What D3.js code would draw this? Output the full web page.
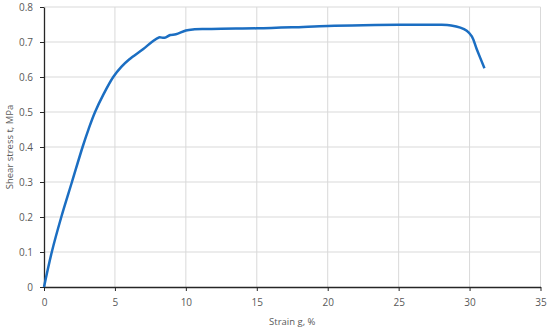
<!DOCTYPE html>
<html>
<head>
<meta charset="utf-8">
<script src="https://cdn.jsdelivr.net/npm/d3@7"></script>
<style>
  body { margin: 0; background: #fff; }
  .tick text { font-family: "Open Sans", sans-serif; font-size: 10px; fill: #595959; }
  .axis-title { font-family: "Open Sans", sans-serif; font-size: 9.5px; fill: #595959; }
</style>
</head>
<body>
<div id="chart"></div>
<script>
// strain (%) and shear stress (MPa)
var strain = [0, 0.55, 1.22, 1.97, 2.72, 3.15, 3.6, 4.2, 4.88, 5.45, 6.0, 7.0, 7.6, 8.1, 8.5, 8.9, 9.3, 10.0, 10.5, 11.5, 12.5, 15, 17.5, 20, 22.5, 25, 27, 28, 28.7, 29.35, 29.8, 30.16, 30.5, 31.05];
var stress = [0, 0.1, 0.2, 0.3, 0.4, 0.452, 0.5, 0.551, 0.6, 0.629, 0.65, 0.68, 0.7, 0.713, 0.712, 0.72, 0.722, 0.733, 0.736, 0.737, 0.738, 0.739, 0.742, 0.746, 0.748, 0.749, 0.749, 0.749, 0.747, 0.741, 0.732, 0.716, 0.68, 0.625];

var xTicks = [0, 5, 10, 15, 20, 25, 30, 35];
var yTicks = [0, 0.1, 0.2, 0.3, 0.4, 0.5, 0.6, 0.7, 0.8];

var width = 550;
var height = 331;
var margin = {top: 7, right: 9.5, bottom: 44, left: 44};

var data = strain.map((s, i) => ({x: s, y: stress[i]}));

var xScale = d3.scaleLinear().domain([0, 35]).range([margin.left, width - margin.right]);
var yScale = d3.scaleLinear().domain([0, 0.8]).range([height - margin.bottom, margin.top]);

var svg = d3.select("#chart").append("svg")
  .attr("width", width)
  .attr("height", height);

/* grid */
svg.append("g")
  .selectAll("line")
  .data(xTicks.slice(1))
  .enter()
  .append("line")
  .attr("x1", d => xScale(d)).attr("x2", d => xScale(d))
  .attr("y1", yScale(0)).attr("y2", yScale(0.8))
  .attr("stroke", "#d9d9d9").attr("stroke-width", 1);

svg.append("g")
  .selectAll("line")
  .data(yTicks.slice(1))
  .enter()
  .append("line")
  .attr("x1", xScale(0)).attr("x2", xScale(35))
  .attr("y1", d => yScale(d)).attr("y2", d => yScale(d))
  .attr("stroke", "#d9d9d9").attr("stroke-width", 1);

/* axes */
var xAxis = d3.axisBottom(xScale).tickValues(xTicks).tickSizeInner(4).tickSizeOuter(0).tickPadding(8).tickFormat(d3.format("d"));
var yAxis = d3.axisLeft(yScale).tickValues(yTicks).tickSizeInner(4).tickSizeOuter(0).tickPadding(7).tickFormat(d => d === 0 ? "0" : d3.format(".1f")(d));

var gx = svg.append("g")
  .attr("transform", `translate(0, ${yScale(0)})`)
  .call(xAxis);
gx.select(".domain").attr("stroke", "#262626").attr("stroke-width", 1.3);
gx.selectAll(".tick line").attr("stroke", "#262626");

var gy = svg.append("g")
  .attr("transform", `translate(${xScale(0)}, 0)`)
  .call(yAxis);
gy.select(".domain").attr("stroke", "#262626").attr("stroke-width", 1.3);
gy.selectAll(".tick line").attr("stroke", "#262626");

/* line */
var line = d3.line()
  .x(d => xScale(d.x))
  .y(d => yScale(d.y))
  .curve(d3.curveCatmullRom.alpha(0.5));

svg.append("path")
  .datum(data)
  .attr("d", line)
  .attr("fill", "none")
  .attr("stroke", "#1b6ec2")
  .attr("stroke-width", 2.5)
  .attr("stroke-linejoin", "round");

/* titles */
svg.append("text")
  .attr("class", "axis-title")
  .attr("x", (xScale(0) + xScale(35)) / 2)
  .attr("y", 325)
  .attr("text-anchor", "middle")
  .text("Strain g, %");

svg.append("text")
  .attr("class", "axis-title")
  .attr("transform", `translate(13, ${(yScale(0) + yScale(0.8)) / 2}) rotate(-90)`)
  .attr("text-anchor", "middle")
  .text("Shear stress t, MPa");
</script>
</body>
</html>
